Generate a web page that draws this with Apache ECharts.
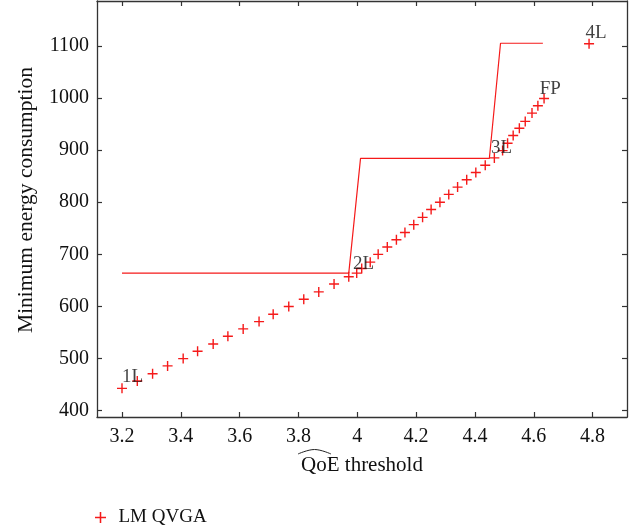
<!DOCTYPE html>
<html><head><meta charset="utf-8">
<script src="https://cdn.jsdelivr.net/npm/echarts@6/dist/echarts.min.js"></script>
<style>html,body{margin:0;padding:0;background:#fff}#c{width:637px;height:529px}</style>
</head><body><div id="c"></div>
<script>
const seriesName = 'LM QVGA';
const qoeX = [3.2, 3.252, 3.304, 3.355, 3.408, 3.457, 3.510, 3.560, 3.612, 3.666, 3.714, 3.767, 3.818, 3.869, 3.921, 3.971, 3.998, 4.015, 4.044, 4.071, 4.102, 4.133, 4.162, 4.192, 4.222, 4.251, 4.281, 4.311, 4.341, 4.372, 4.403, 4.435, 4.466, 4.494, 4.511, 4.530, 4.551, 4.571, 4.594, 4.614, 4.635, 4.788];
const energyY = [443, 457, 471, 486, 500, 514, 528, 543, 557, 571, 585, 600, 614, 628, 643, 657, 664, 673, 685, 700, 714, 728, 742, 757, 771, 786, 800, 815, 829, 843, 857, 871, 885, 899, 913, 928, 942, 955, 971, 985, 999, 1104];
const stepX = [3.2, 3.971, 4.011, 4.449, 4.487, 4.631];
const stepY = [664, 664, 884, 884, 1105, 1105];
const noteX = [3.2, 3.985, 4.455, 4.62, 4.776];
const noteY = [465, 682, 904, 1017, 1125];
const noteText = ['1L', '2L', '3L', 'FP', '4L'];
const xTicks = [3.2, 3.4, 3.6, 3.8, 4, 4.2, 4.4, 4.6, 4.8];
const yTicks = [400, 500, 600, 700, 800, 900, 1000, 1100];
const xName = 'QoE threshold';
const yName = 'Minimum energy consumption';

const FONT = '"Liberation Serif", "DejaVu Serif", serif';
const INK = '#111';
const RED = '#f51a1a';
const plusPath = 'path://M0,4.3H10V5.7H0Z M4.3,0H5.7V10H4.3Z';

const axisLineStyle = { lineStyle: { color: '#333', width: 1.3 } };
function xAx(pos, labels) {
  return {
    type: 'value', position: pos, min: 3.115, max: 4.917,
    splitLine: { show: false },
    axisLine: { show: true, onZero: false, ...axisLineStyle },
    axisTick: { show: true, inside: true, length: 5, customValues: xTicks, lineStyle: { color: '#333', width: 1.2 } },
    axisLabel: { show: labels, customValues: xTicks, formatter: v => String(v), fontFamily: FONT, fontSize: 20, color: INK, margin: 10 },
    name: labels ? xName : '', nameLocation: 'middle', nameGap: 38,
    nameTextStyle: { fontFamily: FONT, fontSize: 21, color: INK }
  };
}
function yAx(pos, labels) {
  return {
    type: 'value', position: pos, min: 388, max: 1186,
    splitLine: { show: false },
    axisLine: { show: true, onZero: false, ...axisLineStyle },
    axisTick: { show: true, inside: true, length: 5, customValues: yTicks, lineStyle: { color: '#333', width: 1.2 } },
    axisLabel: { show: labels, customValues: yTicks, formatter: v => String(v), fontFamily: FONT, fontSize: 20, color: INK, margin: 8 },
    name: labels ? yName : '', nameLocation: 'middle', nameGap: 60, nameRotate: 90,
    nameTextStyle: { fontFamily: FONT, fontSize: 21.5, color: INK, padding: [0, 0, 0, 18] }
  };
}

const chart = echarts.init(document.getElementById('c'), null, { renderer: 'canvas' });
chart.setOption({
  animation: false,
  backgroundColor: '#fff',
  grid: { left: 97, right: 10, top: 1, bottom: 112 },
  xAxis: [xAx('bottom', true), xAx('top', false)],
  yAxis: [yAx('left', true), yAx('right', false)],
  legend: {
    left: 90, top: 503, itemWidth: 26, itemHeight: 11,
    data: [seriesName],
    textStyle: { fontFamily: FONT, fontSize: 19, color: INK }
  },
  graphic: [{
    type: 'polyline', silent: true,
    shape: { points: [[298, 454], [314.5, 449.5], [331, 454]], smooth: 0.4 },
    style: { stroke: '#222', lineWidth: 1, fill: null }
  }],
  series: [
    {
      name: 'step', type: 'line', xAxisIndex: 0, yAxisIndex: 0,
      data: stepX.map((x, i) => [x, stepY[i]]),
      symbol: 'none', lineStyle: { color: RED, width: 1.2 }, z: 2
    },
    {
      name: seriesName, type: 'scatter', xAxisIndex: 0, yAxisIndex: 0,
      data: qoeX.map((x, i) => [x, energyY[i]]),
      symbol: plusPath, symbolSize: 10, itemStyle: { color: RED, opacity: 1 }, z: 3
    },
    {
      name: 'notes', type: 'scatter', xAxisIndex: 0, yAxisIndex: 0,
      data: noteX.map((x, i) => ({ value: [x, noteY[i]], name: noteText[i] })),
      symbolSize: 0, silent: true, z: 4,
      label: { show: true, position: 'right', distance: 0, formatter: p => p.name,
               fontFamily: FONT, fontSize: 19, color: INK }
    }
  ]
});
</script></body></html>
